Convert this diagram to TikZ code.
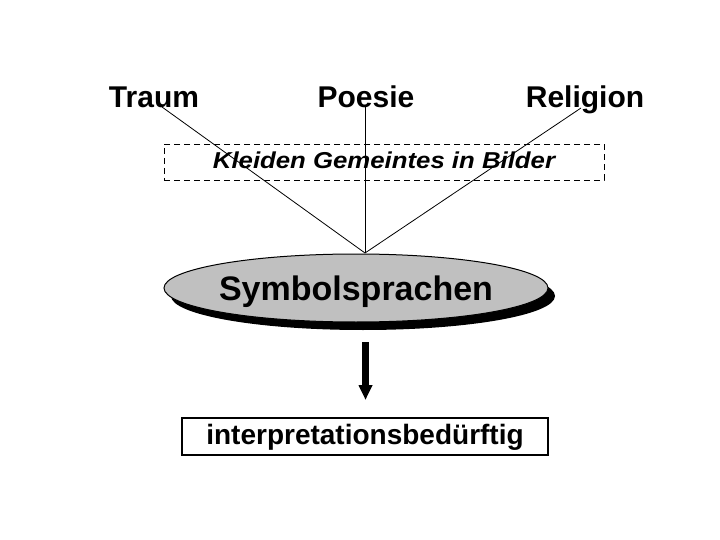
\documentclass[tikz,border=0pt]{standalone}
\usepackage{fontspec}
\setmainfont{Liberation Sans}
\usetikzlibrary{shapes.geometric,arrows.meta}
\tikzset{
  title/.style={font=\bfseries\fontsize{30}{34}\selectfont, inner sep=0pt, anchor=base},
  lineconn/.style={line width=0.8pt, black},
  dashbox/.style={draw, line width=0.9pt, dash pattern=on 6pt off 4pt, minimum width=440pt, minimum height=36pt, inner sep=0pt},
  symell/.style={ellipse, draw, line width=1pt, fill={rgb,255:red,192;green,192;blue,192}, minimum width=384pt, minimum height=68pt, inner sep=0pt},
  resbox/.style={draw, line width=1.2pt, minimum width=366pt, minimum height=37pt, inner sep=0pt},
}
\begin{document}
\begin{tikzpicture}[x=1pt,y=-1pt]
\useasboundingbox (0,0) rectangle (720,540);
\fill[white] (0,0) rectangle (720,540);
% top labels
\node[title] (traum) at (154,108) {Traum};
\node[title] (poesie) at (366,108) {Poesie};
\node[title] (religion) at (585,108) {Religion};
% dashed box
\node[dashbox] (kleid) at (384,162) {};
\node[inner sep=0pt, anchor=base, font=\bfseries\itshape\fontsize{23}{27}\selectfont, xscale=1.12] (kleidtext) at (384,168.5) {Kleiden Gemeintes in Bilder};
% ellipse with shadow
\fill[black] (363,296) ellipse [x radius=192, y radius=34];
\node[symell] (sym) at (356,288) {};
\node[inner sep=0pt, anchor=base, font=\bfseries\fontsize{34}{38}\selectfont] (symtext) at (356,300) {Symbolsprachen};
% connectors
\coordinate (meet) at (365,253);
\coordinate (tA) at (162,107);
\coordinate (pA) at (365,107);
\coordinate (rA) at (581,108);
\draw[lineconn] (tA) -- (meet);
\draw[lineconn] (pA) -- (meet);
\draw[lineconn] (rA) -- (meet);
% arrow
\coordinate (arrS) at (365.5,342);
\coordinate (arrE) at (365.5,400);
\draw[line width=6.5pt, -{Triangle[width=13pt,length=15pt]}] (arrS) -- (arrE);
% result box
\node[resbox] (res) at (365,436.5) {};
\node[inner sep=0pt, anchor=base, font=\bfseries\fontsize{28}{32}\selectfont] (restext) at (365,444) {interpretationsbedürftig};
\end{tikzpicture}
\end{document}
